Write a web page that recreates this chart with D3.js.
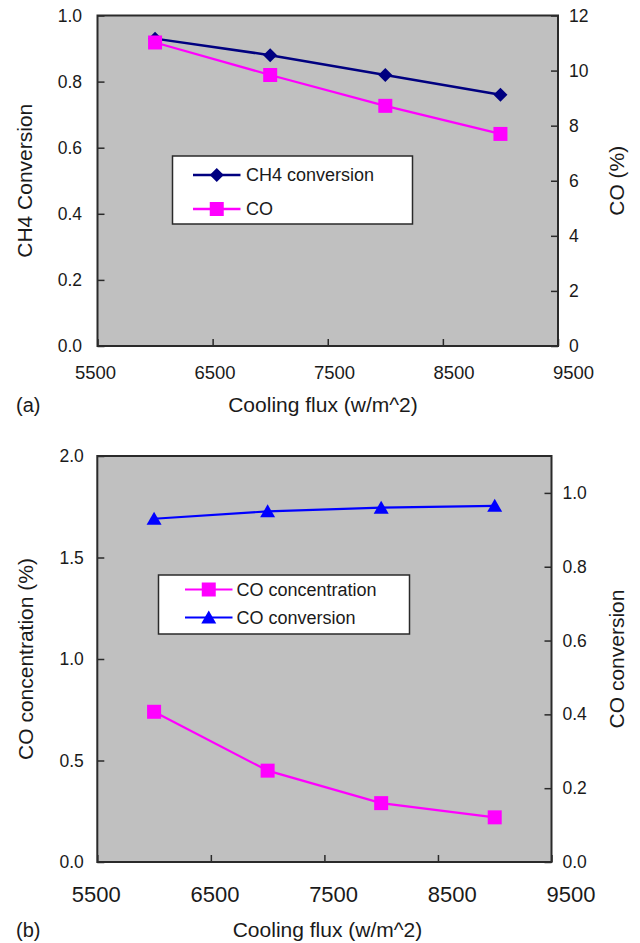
<!DOCTYPE html>
<html>
<head>
<meta charset="utf-8">
<script src="https://cdn.jsdelivr.net/npm/d3@7"></script>
<style>
  html, body { margin: 0; padding: 0; background: #fff; }
  svg { display: block; font-family: "Liberation Sans", Arial, Helvetica, sans-serif; }
</style>
</head>
<body>
<svg id="chart" width="640" height="943"></svg>
<script>
// Cooling flux settings (w/m^2)
const coolingFlux = [6000, 7000, 8000, 9000];

// Panel (a)
const ch4Conversion = [0.93, 0.88, 0.82, 0.76];
const coPercent = [11.02, 9.84, 8.72, 7.70];

// Panel (b)
const coConcentration = [0.74, 0.45, 0.29, 0.22];
const coConversion = [0.93, 0.95, 0.96, 0.965];

// Tick values
const fluxTicks = [5500, 6500, 7500, 8500, 9500];
const ch4Ticks = [0, 0.2, 0.4, 0.6, 0.8, 1.0];
const coPercentTicks = [0, 2, 4, 6, 8, 10, 12];
const coConcTicks = [0, 0.5, 1.0, 1.5, 2.0];
const coConvTicks = [0, 0.2, 0.4, 0.6, 0.8, 1.0];

// Legend / axis texts
const panelLabels = ["(a)", "(b)"];
const xTitle = "Cooling flux (w/m^2)";
const seriesNamesA = ["CH4 conversion", "CO"];
const seriesNamesB = ["CO concentration", "CO conversion"];

const svg = d3.select("#chart");
const AXIS = "#2a2a2a";
const TEXT = "#1a1a1a";

const markers = {
  diamond: "M0,-7L7,0L0,7L-7,0Z",
  square: "M-7,-7H7V7H-7Z",
  triangle: "M0,-7L7.5,6L-7.5,6Z"
};

function drawPanel(p) {
  const g = svg.append("g");
  const x = d3.scaleLinear().domain([5500, 9500]).range([p.x0, p.x1]);
  const xLab = d3.scaleLinear().domain([5500, 9500]).range(p.labelRange);
  const yL = d3.scaleLinear().domain(p.leftDomain).range([p.y1, p.y0]);
  const yR = d3.scaleLinear().domain(p.rightDomain).range([p.y1, p.y0]);

  // plot area
  g.append("rect")
    .attr("x", p.x0).attr("y", p.y0)
    .attr("width", p.x1 - p.x0).attr("height", p.y1 - p.y0)
    .attr("fill", "#c0c0c0");

  // axes with inward ticks
  const styleAxis = sel => {
    sel.select(".domain").remove();
    sel.selectAll(".tick line").attr("stroke", AXIS).attr("stroke-width", 1.5);
    sel.selectAll("text").attr("fill", TEXT);
  };

  g.append("g").attr("transform", `translate(0,${p.y1})`)
    .call(d3.axisBottom(x).tickValues(fluxTicks).tickSize(-7).tickFormat(""))
    .call(styleAxis);
  g.append("g").attr("transform", `translate(0,${p.xLabelY})`)
    .call(d3.axisBottom(xLab).tickValues(fluxTicks).tickSize(0).tickPadding(0).tickFormat(d3.format("d")))
    .call(styleAxis)
    .call(s => s.selectAll("text").attr("dy", null).attr("y", 0).style("font-size", p.xFont + "px"));

  g.append("g").attr("transform", `translate(${p.x0},0)`)
    .call(d3.axisLeft(yL).tickValues(p.leftTicks).tickSize(-7).tickPadding(p.leftPad).tickFormat(p.leftFmt))
    .call(styleAxis)
    .call(s => s.selectAll("text").style("font-size", "17.5px"));
  g.append("g").attr("transform", `translate(${p.x1},0)`)
    .call(d3.axisRight(yR).tickValues(p.rightTicks).tickSize(-7).tickPadding(11).tickFormat(p.rightFmt))
    .call(styleAxis)
    .call(s => s.selectAll("text").style("font-size", "17.5px"));

  // plot border
  g.append("rect")
    .attr("x", p.x0).attr("y", p.y0)
    .attr("width", p.x1 - p.x0).attr("height", p.y1 - p.y0)
    .attr("fill", "none").attr("stroke", AXIS).attr("stroke-width", 2);

  // series
  p.series.forEach(s => {
    const y = s.axis === "left" ? yL : yR;
    const pts = coolingFlux.map((f, i) => [x(f), y(s.values[i])]);
    g.append("path").datum(pts)
      .attr("d", d3.line())
      .attr("fill", "none").attr("stroke", s.color).attr("stroke-width", s.width);
    g.selectAll(null).data(pts).join("path")
      .attr("transform", d => `translate(${d[0]},${d[1]})`)
      .attr("d", markers[s.marker]).attr("fill", s.color);
  });

  // legend
  const L = p.legend;
  g.append("rect")
    .attr("x", L.x).attr("y", L.y).attr("width", L.w).attr("height", L.h)
    .attr("fill", "#fff").attr("stroke", AXIS).attr("stroke-width", 1.5);
  p.series.forEach((s, i) => {
    const ry = L.rows[i];
    g.append("line")
      .attr("x1", L.lineX0).attr("x2", L.lineX1).attr("y1", ry).attr("y2", ry)
      .attr("stroke", s.color).attr("stroke-width", s.width);
    g.append("path")
      .attr("transform", `translate(${(L.lineX0 + L.lineX1) / 2},${ry})`)
      .attr("d", markers[s.marker]).attr("fill", s.color);
    g.append("text")
      .attr("x", L.textX).attr("y", ry).attr("dy", "0.36em")
      .attr("fill", TEXT).style("font-size", "18px")
      .text(s.name);
  });

  // titles
  g.append("text")
    .attr("x", p.xTitleX).attr("y", p.xTitleY)
    .attr("text-anchor", "middle").attr("fill", TEXT).style("font-size", "21px")
    .text(xTitle);
  g.append("text")
    .attr("x", 16).attr("y", p.xTitleY)
    .attr("fill", TEXT).style("font-size", "20px")
    .text(p.panel);
  const cy = (p.y0 + p.y1) / 2;
  g.append("text")
    .attr("transform", `translate(${p.leftTitleX},${cy}) rotate(-90)`)
    .attr("text-anchor", "middle").attr("fill", TEXT).style("font-size", "21px")
    .text(p.leftTitle);
  g.append("text")
    .attr("transform", `translate(${p.rightTitleX},${cy}) rotate(-90)`)
    .attr("text-anchor", "middle").attr("fill", TEXT).style("font-size", "21px")
    .text(p.rightTitle);
}

drawPanel({
  panel: panelLabels[0],
  x0: 97.5, x1: 558, y0: 15.5, y1: 346,
  labelRange: [95, 573], xLabelY: 378.5, xFont: 18.5,
  leftDomain: [0, 1], rightDomain: [0, 12],
  leftTicks: ch4Ticks, rightTicks: coPercentTicks,
  leftFmt: d3.format(".1f"), rightFmt: d3.format("d"),
  leftPad: 15.5,
  xTitleX: 323, xTitleY: 412,
  leftTitle: "CH4 Conversion", rightTitle: "CO (%)",
  leftTitleX: 31.5, rightTitleX: 624,
  series: [
    { name: seriesNamesA[0], values: ch4Conversion, axis: "left", color: "#000080", width: 2.5, marker: "diamond" },
    { name: seriesNamesA[1], values: coPercent, axis: "right", color: "#ff00ff", width: 2.3, marker: "square" }
  ],
  legend: { x: 172.5, y: 156, w: 240, h: 68, rows: [175, 209], lineX0: 193, lineX1: 240.5, textX: 246 }
});

drawPanel({
  panel: panelLabels[1],
  x0: 97.3, x1: 551.5, y0: 456, y1: 862,
  labelRange: [95.7, 570.5], xLabelY: 901.5, xFont: 22,
  leftDomain: [0, 2], rightDomain: [0, 1.1],
  leftTicks: coConcTicks, rightTicks: coConvTicks,
  leftFmt: d3.format(".1f"), rightFmt: d3.format(".1f"),
  leftPad: 13.5,
  xTitleX: 327.5, xTitleY: 936.5,
  leftTitle: "CO concentration (%)", rightTitle: "CO conversion",
  leftTitleX: 32.5, rightTitleX: 624,
  series: [
    { name: seriesNamesB[0], values: coConcentration, axis: "left", color: "#ff00ff", width: 2.2, marker: "square" },
    { name: seriesNamesB[1], values: coConversion, axis: "right", color: "#0000ff", width: 2.2, marker: "triangle" }
  ],
  legend: { x: 158.5, y: 575, w: 251, h: 59, rows: [589.5, 617.5], lineX0: 185, lineX1: 232.5, textX: 236.5 }
});
</script>
</body>
</html>
